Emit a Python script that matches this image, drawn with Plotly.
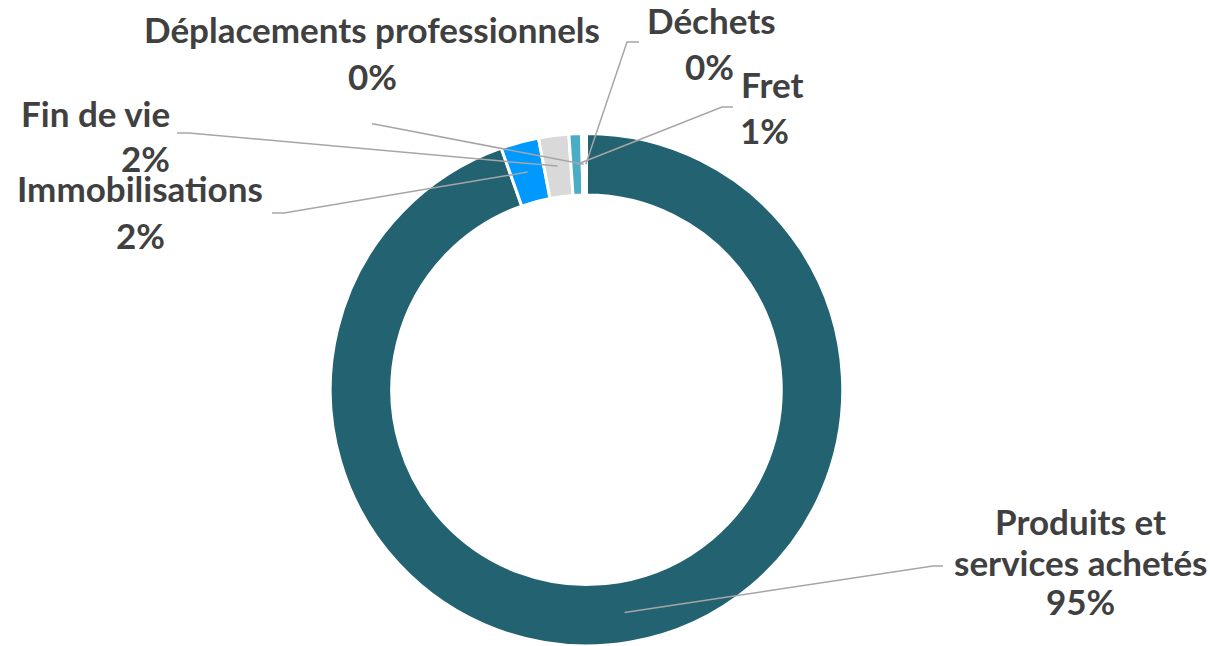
import math
import plotly.graph_objects as go

# Scope 3 emission split (share in %)
categories = ["Produits et services achetés", "Immobilisations", "Fin de vie", "Fret",
              "Déplacements professionnels", "Déchets"]
values = [94.6, 2.4, 1.9, 0.8, 0.2, 0.1]
display_names = ["Produits et\nservices achetés", "Immobilisations", "Fin de vie", "Fret",
                 "Déplacements professionnels", "Déchets"]
colors = ["#236371", "#0099FF", "#D9D9D9", "#4BACC6", "#A5A5A5", "#7F7F7F"]

W, H = 1210, 646
CX, CY, R = 586.5, 390, 256.5
HOLE = 0.76
TEXT = "#404040"
LEADER = "#A6A6A6"
FONT = "Lato"
FONT_SIZE = 35
LINE_GAP = 41

# label placement (pixels): name centre, percent centre, leader start, leader stub end
label_pos = {
    "Produits et services achetés": ((1080, 521), (1080, 601), (943, 566), (933, 566)),
    "Immobilisations": ((140, 188), (140, 235), (272, 213), (284, 213)),
    "Fin de vie": ((95, 113), (145, 158), (177, 133), (189, 133)),
    "Fret": ((772, 84), (764, 130), (733, 107), (722, 107)),
    "Déplacements professionnels": ((372, 29), (372, 76), (372, 124), (374, 124)),
    "Déchets": ((711, 20), (709, 66), (639, 42), (627, 42)),
}

fig = go.Figure()
fig.add_trace(go.Pie(
    labels=categories,
    values=values,
    sort=False,
    direction="clockwise",
    rotation=0,
    hole=HOLE,
    textinfo="none",
    marker=dict(colors=colors, line=dict(color="white", width=3)),
    domain=dict(x=[(CX - R) / W, (CX + R) / W], y=[0, (H - CY + R) / H]),
    showlegend=False,
))

# leader lines end in the middle of each ring segment
total = sum(values)
r_mid = R * (1 + HOLE) / 2
cum = 0
ends_x, ends_y = [], []
for cat, v, name in zip(categories, values, display_names):
    mid = (cum + v / 2) / total * 2 * math.pi
    cum += v
    px_, py_ = CX + r_mid * math.sin(mid), CY - r_mid * math.cos(mid)
    ends_x.append(px_)
    ends_y.append(py_)
    name_xy, pct_xy, start, stub = label_pos[cat]
    fig.add_shape(
        type="path", xref="x", yref="y", layer="above",
        path=f"M {start[0]},{start[1]} L {stub[0]},{stub[1]} L {px_:.1f},{py_:.1f}",
        line=dict(color=LEADER, width=1.5),
    )
    for i, line in enumerate(name.split("\n")):
        fig.add_annotation(x=name_xy[0], y=name_xy[1] + i * LINE_GAP, text=f"<b>{line}</b>",
                           showarrow=False, xanchor="center", yanchor="middle",
                           font=dict(family=FONT, size=FONT_SIZE, color=TEXT))
    fig.add_annotation(x=pct_xy[0], y=pct_xy[1], text=f"<b>{round(v)}%</b>",
                       showarrow=False, xanchor="center", yanchor="middle",
                       font=dict(family=FONT, size=FONT_SIZE, color=TEXT))

# invisible trace keeps the pixel-mapped cartesian axes alive
fig.add_trace(go.Scatter(x=ends_x, y=ends_y, mode="markers", marker=dict(opacity=0),
                         hoverinfo="skip", showlegend=False))

fig.update_layout(
    width=W, height=H,
    margin=dict(l=0, r=0, t=0, b=0),
    paper_bgcolor="white", plot_bgcolor="rgba(0,0,0,0)",
    xaxis=dict(range=[0, W], visible=False, fixedrange=True),
    yaxis=dict(range=[H, 0], visible=False, fixedrange=True),
)

fig.write_html("out.html", config={"displayModeBar": False},
               post_script="document.body.style.margin='0';")
